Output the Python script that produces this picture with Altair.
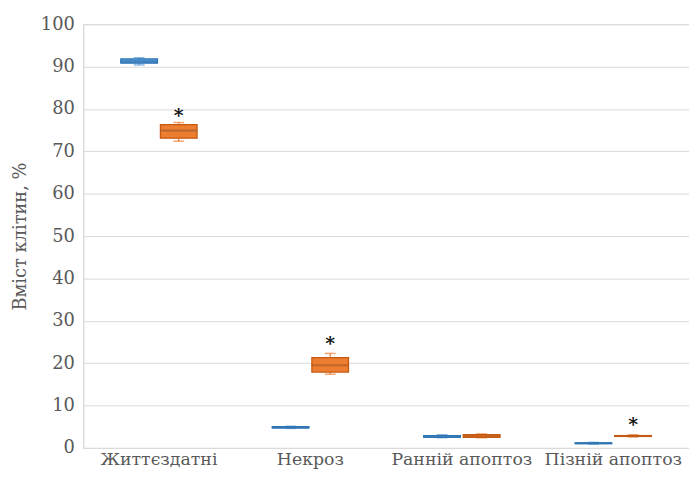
import altair as alt
import pandas as pd

categories = ["Життєздатні", "Некроз", "Ранній апоптоз", "Пізній апоптоз"]
groups = ["control", "treated"]

# five-number summaries: min, q1, median, q3, max
control_min = [90.4, 4.6, 2.4, 0.9]
control_q1 = [90.8, 4.7, 2.5, 1.0]
control_med = [91.2, 4.8, 2.7, 1.1]
control_q3 = [91.8, 5.0, 2.9, 1.2]
control_max = [92.1, 5.1, 3.1, 1.3]

treated_min = [72.4, 17.4, 2.4, 2.6]
treated_q1 = [73.1, 17.9, 2.5, 2.7]
treated_med = [74.9, 19.5, 2.8, 2.8]
treated_q3 = [76.3, 21.3, 3.1, 2.9]
treated_max = [76.8, 22.3, 3.3, 3.1]

star_categories = ["Життєздатні", "Некроз", "Пізній апоптоз"]
star_values = [79.2, 25.4, 6.4]

rows = []
for g, mn, q1, md, q3, mx in [
    ("control", control_min, control_q1, control_med, control_q3, control_max),
    ("treated", treated_min, treated_q1, treated_med, treated_q3, treated_max),
]:
    for i, c in enumerate(categories):
        rows.append(dict(cat=c, grp=g, mn=mn[i], q1=q1[i], md=md[i], q3=q3[i], mx=mx[i]))
df = pd.DataFrame(rows)
stars = pd.DataFrame(dict(cat=star_categories, grp="treated", y=star_values, t="*"))

font = "DejaVu Serif"
x = alt.X("cat:N", sort=categories, title=None,
          scale=alt.Scale(paddingInner=0, paddingOuter=0),
          axis=alt.Axis(labelAngle=0, labelFont=font, labelFontSize=17.5, labelColor="#595959",
                        ticks=False, domain=False, labelPadding=3, grid=False))
xo = alt.XOffset("grp:N", sort=groups,
                 scale=alt.Scale(paddingInner=0.075, paddingOuter=0.95))
y_scale = alt.Scale(domain=[0, 100])
yaxis = alt.Axis(values=list(range(0, 101, 10)), labelFont=font, labelFontSize=18,
                 labelColor="#595959", ticks=False, domain=True, domainColor="#d9d9d9",
                 gridColor="#d9d9d9", labelPadding=9, titleFont=font, titleFontSize=18,
                 titleColor="#595959", titleFontWeight="normal", titlePadding=11)

color = alt.Color("grp:N", sort=groups, legend=None,
                  scale=alt.Scale(domain=groups, range=["#5B9BD5", "#ED7D31"]))
stroke = alt.Stroke("grp:N", sort=groups, legend=None,
                    scale=alt.Scale(domain=groups, range=["#2E75B6", "#C55A11"]))

base = alt.Chart(df)
whisk = base.mark_rule(strokeWidth=1.2).encode(
    x=x, xOffset=xo, y=alt.Y("mn:Q", scale=y_scale, title="Вміст клітин, %", axis=yaxis),
    y2="mx:Q", color=color)
capl = base.mark_tick(size=11, thickness=1.5).encode(x=x, xOffset=xo, y="mn:Q", color=color)
caph = base.mark_tick(size=11, thickness=1.5).encode(x=x, xOffset=xo, y="mx:Q", color=color)
box = base.mark_bar(strokeWidth=1.3).encode(x=x, xOffset=xo, y="q1:Q", y2="q3:Q",
                                             color=color, stroke=stroke)
med = base.mark_tick(size=37, thickness=1.2).encode(x=x, xOffset=xo, y="md:Q", stroke=stroke)
star = alt.Chart(stars).mark_text(text="*", font=font, fontSize=19, fontWeight="bold",
                                  color="#111111", baseline="middle", dy=4).encode(
    x=x, xOffset=xo, y="y:Q")

chart = alt.layer(whisk, capl, caph, box, med, star).properties(
    width=612, height=428,
    autosize=alt.AutoSizeParams(type="none"),
    padding={"left": 76, "top": 14, "right": 0, "bottom": 26},
).configure_view(stroke=None).configure_axisY(grid=True).configure(font=font)

chart.save("out.html", embed_options={"renderer": "svg", "actions": False})
